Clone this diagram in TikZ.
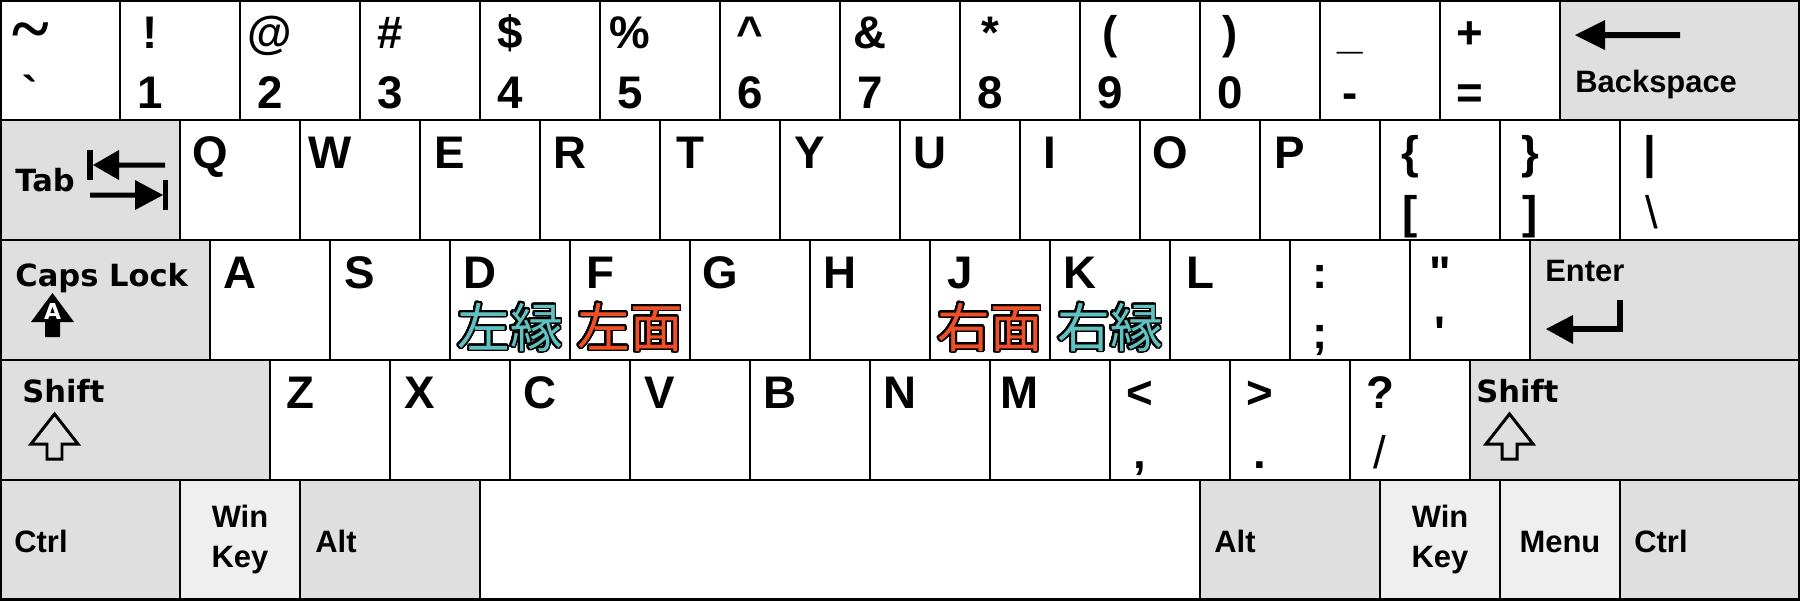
\documentclass[tikz,border=0pt]{standalone}
\usepackage{fontspec}
\setmainfont{Liberation Sans}
\newfontfamily\keyfont{Liberation Sans}
\newfontfamily\serifkeyfont{Liberation Serif}
\newfontfamily\wordfont{DejaVu Sans}
\newfontfamily\cjkfont{Noto Sans CJK JP}
\usepackage[copies]{contour}
\contourlength{1pt}
\contournumber{40}
\usetikzlibrary{positioning}
\definecolor{modgray}{HTML}{DFDFDF}
\definecolor{wingray}{HTML}{EFEFEF}
\definecolor{edgeteal}{RGB}{97,192,192}
\definecolor{facered}{RGB}{240,80,40}
\tikzset{
    % --- Plain key cap ---
    key/.style = {
        draw=black, line width=1.2pt, fill=white
    },
    % --- Modifier key cap ---
    mod key/.style = {
        key, fill=modgray
    },
    % --- Win / Menu key cap ---
    win key/.style = {
        key, fill=wingray
    },
    % --- Letter and symbol legend ---
    legend/.style = {
        font=\keyfont\bfseries\fontsize{26}{26}\selectfont,
        anchor=base, inner sep=0pt
    },
    % --- Modifier legend (Arial-like) ---
    mod label/.style = {
        font=\keyfont\bfseries\fontsize{17.6}{20}\selectfont,
        anchor=base west, inner sep=0pt
    },
    % --- Modifier legend (Verdana-like) ---
    wide label/.style = {
        font=\wordfont\bfseries\fontsize{17.4}{20}\selectfont,
        anchor=base west, inner sep=0pt
    },
    % --- Home row finger hint ---
    home label/.style = {
        font=\cjkfont\fontsize{30}{30}\selectfont, inner sep=0pt
    },
    % --- Solid icon ---
    icon/.style = {
        fill=black
    },
    % --- Hollow icon ---
    hollow icon/.style = {
        draw=black, line width=1.7pt, fill=none
    }
}

\begin{document}
\begin{tikzpicture}[x=0.02cm, y=-0.02cm]
\useasboundingbox (0,0) rectangle (1800,600);

% ---------------------------------------------------------
% Key caps
% ---------------------------------------------------------
% number row
\foreach \i in {0,...,12} \draw[key] (120*\i,0) rectangle ++(120,120);
\draw[mod key] (1560,0) rectangle (1800,120);
% top letter row
\draw[mod key] (0,120) rectangle (180,240);
\foreach \i in {0,...,11} \draw[key] (180+120*\i,120) rectangle ++(120,120);
\draw[key] (1620,120) rectangle (1800,240);
% home row
\draw[mod key] (0,240) rectangle (210,360);
\foreach \i in {0,...,10} \draw[key] (210+120*\i,240) rectangle ++(120,120);
\draw[mod key] (1530,240) rectangle (1800,360);
% bottom letter row
\draw[mod key] (0,360) rectangle (270,480);
\foreach \i in {0,...,9} \draw[key] (270+120*\i,360) rectangle ++(120,120);
\draw[mod key] (1470,360) rectangle (1800,480);
% space row
\draw[mod key] (0,480) rectangle (180,600);
\draw[win key] (180,480) rectangle (300,600);
\draw[mod key] (300,480) rectangle (480,600);
\draw[key]     (480,480) rectangle (1200,600);
\draw[mod key] (1200,480) rectangle (1380,600);
\draw[win key] (1380,480) rectangle (1500,600);
\draw[win key] (1500,480) rectangle (1620,600);
\draw[mod key] (1620,480) rectangle (1800,600);

% outer frame
\draw[line width=2.4pt] (0,0) rectangle (1800,600);

% ---------------------------------------------------------
% Number row legends
% ---------------------------------------------------------
\node[legend, font=\serifkeyfont\bfseries\fontsize{40}{40}\selectfont]
    (up0) at (31,52) {\textasciitilde};
\node[legend] (low0) at (30,108) {`};
\foreach \up/\low [count=\i from 1] in {!/1, @/2, \#/3, \$/4, \%/5,
    {\textasciicircum}/6, \&/7, */8, {(}/9, {)}/0, \_/-, +/=} {
    \node[legend] (up\i)  at (120*\i+30,48)  {\up};
    \node[legend] (low\i) at (120*\i+30,108) {\low};
}
\node[mod label] (Backspace) at (1575,92) {Backspace};
\fill[icon] (1575,35) -- (1605,20) -- (1605,32) -- (1680,32)
    -- (1680,38) -- (1605,38) -- (1605,50) -- cycle;

% ---------------------------------------------------------
% Top letter row legends
% ---------------------------------------------------------
\node[wide label] (Tab) at (15,191) {Tab};
\fill[icon] (87,150) rectangle (93,180);
\fill[icon] (93,165) -- (119,150) -- (119,162.5) -- (165,162.5)
    -- (165,167.5) -- (119,167.5) -- (119,180) -- cycle;
\fill[icon] (90,192.5) -- (135,192.5) -- (135,180) -- (163,195)
    -- (135,210) -- (135,197.5) -- (90,197.5) -- cycle;
\fill[icon] (163,180) rectangle (168,210);

\foreach \ch [count=\i from 0] in {Q,W,E,R,T,Y,U,I,O,P}
    \node[legend] (key\ch) at (180+120*\i+30,168) {\ch};
\node[legend] (braceUp)  at (1410,168) {\{};
\node[legend] (braceLow) at (1410,228) {[};
\node[legend] (closeUp)  at (1530,168) {\}};
\node[legend] (closeLow) at (1530,228) {]};
\node[legend] (pipeUp)   at (1650,168) {|};
\node[legend, font=\keyfont\fontsize{26}{26}\selectfont] (pipeLow) at (1652,228) {\textbackslash};

% ---------------------------------------------------------
% Home row legends
% ---------------------------------------------------------
\node[wide label] (CapsLock) at (15,286) {Caps Lock};
\fill[icon] (52.5,293) -- (74,322) -- (60,322) -- (60,337)
    -- (45,337) -- (45,322) -- (31,322) -- cycle;
\node[font=\wordfont\bfseries\fontsize{12.5}{12.5}\selectfont, text=white,
    anchor=base, inner sep=0pt] (capsA) at (52.5,319) {A};

\foreach \ch [count=\i from 0] in {A,S,D,F,G,H,J,K,L}
    \node[legend] (key\ch) at (210+120*\i+30,288) {\ch};
\node[legend] (colonUp)  at (1320,288) {:};
\node[legend] (colonLow) at (1320,348) {;};
\node[legend] (quoteUp)  at (1440,288) {"};
\node[legend] (quoteLow) at (1440,348) {'};

\node[home label, text=edgeteal] (edgeLeft)  at (510,328)  {\contour{black}{左縁}};
\node[home label, text=facered]  (faceLeft)  at (630,328)  {\contour{black}{左面}};
\node[home label, text=facered]  (faceRight) at (990,328)  {\contour{black}{右面}};
\node[home label, text=edgeteal] (edgeRight) at (1110,328) {\contour{black}{右縁}};

\node[mod label] (Enter) at (1545,281) {Enter};
\fill[icon] (1617,300) rectangle (1623,332);
\fill[icon] (1573,326) rectangle (1623,332);
\fill[icon] (1546,329) -- (1573,315) -- (1573,344) -- cycle;

% ---------------------------------------------------------
% Bottom letter row legends
% ---------------------------------------------------------
\node[wide label] (ShiftL) at (22,402) {Shift};
\node[wide label] (ShiftR) at (1476,402) {Shift};
\foreach \dx in {0,1455}
    \draw[hollow icon, xshift=\dx*0.02cm] (54.5,414) -- (78,444) -- (62,444)
        -- (62,459) -- (47,459) -- (47,444) -- (31,444) -- cycle;

\foreach \ch [count=\i from 0] in {Z,X,C,V,B,N,M}
    \node[legend] (key\ch) at (270+120*\i+30,408) {\ch};
\node[legend] (lessUp)   at (1140,408) {<};
\node[legend] (lessLow)  at (1140,468) {,};
\node[legend] (moreUp)   at (1260,408) {>};
\node[legend] (moreLow)  at (1260,468) {.};
\node[legend] (askUp)    at (1380,408) {?};
\node[legend, font=\keyfont\fontsize{26}{26}\selectfont] (askLow) at (1380,468) {/};

% ---------------------------------------------------------
% Space row legends
% ---------------------------------------------------------
\node[mod label] (CtrlL) at (14,552) {Ctrl};
\node[mod label, anchor=base] (WinL)    at (240,527) {Win};
\node[mod label, anchor=base] (WinLKey) at (240,567) {Key};
\node[mod label] (AltL) at (315,552) {Alt};
\node[mod label] (AltR) at (1214,552) {Alt};
\node[mod label, anchor=base] (WinR)    at (1440,527) {Win};
\node[mod label, anchor=base] (WinRKey) at (1440,567) {Key};
\node[mod label, anchor=base] (Menu) at (1560,552) {Menu};
\node[mod label] (CtrlR) at (1634,552) {Ctrl};

\end{tikzpicture}
\end{document}
